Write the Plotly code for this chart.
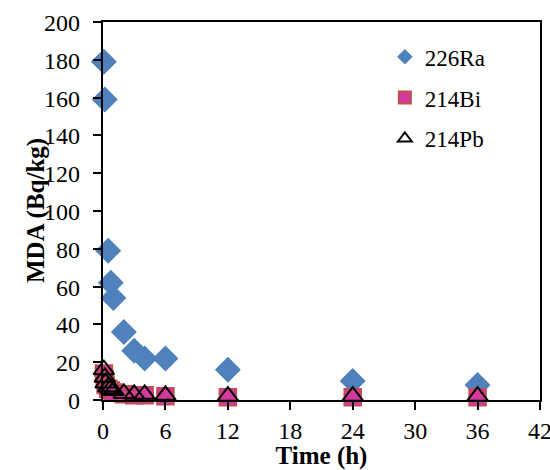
import plotly.graph_objects as go

ra_t = [0.083, 0.167, 0.5, 0.75, 1, 2, 3, 4, 6, 12, 24, 36]
ra_v = [179, 159, 79, 62, 54, 36, 26, 22, 22, 16, 10, 8]

bi_t = [0.083, 0.167, 0.25, 0.5, 0.75, 1, 2, 3, 4, 6, 12, 24, 36]
bi_v = [14, 11, 8, 6, 5, 4, 3, 2.5, 2.5, 2, 1.5, 1.5, 1.5]

pb_t = [0.083, 0.167, 0.25, 0.5, 0.75, 1, 2, 3, 4, 6, 12, 24, 36]
pb_v = [16, 12, 9, 7, 6, 5, 3.5, 3, 3, 2.5, 2, 2, 2]

x_ticks = [0, 6, 12, 18, 24, 30, 36, 42]
y_ticks = [0, 20, 40, 60, 80, 100, 120, 140, 160, 180, 200]

font = "Liberation Serif, Times New Roman, serif"

fig = go.Figure()
fig.add_trace(go.Scatter(x=ra_t, y=ra_v, mode="markers", name="226Ra", legendgroup="a",
                         cliponaxis=False,
                         marker=dict(symbol="diamond", size=20, color="#4F81BD",
                                     line=dict(width=0))))
fig.add_trace(go.Scatter(x=bi_t, y=bi_v, mode="markers", name="214Bi", legendgroup="b",
                         cliponaxis=False,
                         marker=dict(symbol="square", size=17, color="#D33A9B",
                                     line=dict(width=1.5, color="#C0504D"))))
fig.add_trace(go.Scatter(x=pb_t, y=pb_v, mode="markers", name="214Pb", legendgroup="c",
                         cliponaxis=False,
                         marker=dict(symbol="triangle-up-open", size=18, color="black",
                                     line=dict(width=2, color="black"))))

axis_common = dict(showline=True, linecolor="black", linewidth=2, mirror=True,
                   ticks="outside", ticklen=8, tickwidth=2, tickcolor="black",
                   showgrid=False, zeroline=False, automargin=False,
                   ticklabeloverflow="allow",
                   tickfont=dict(family=font, size=24, color="black"))

fig.update_xaxes(range=[0, 42], tickvals=x_ticks,
                 title=dict(text="<b>Time (h)</b>", font=dict(family=font, size=25, color="black"), standoff=1),
                 **axis_common)
fig.update_yaxes(range=[0, 200], tickvals=y_ticks, showticklabels=False,
                 **axis_common)

# y tick labels, placed on the y axis values, a little further from the axis
for v in y_ticks:
    fig.add_annotation(text=str(v), xref="paper", yref="y", x=0, y=v,
                       xanchor="right", yanchor="middle", xshift=-21, yshift=-1,
                       showarrow=False,
                       font=dict(family=font, size=24, color="black"))

fig.add_annotation(text="<b>MDA (Bq/kg)</b>", xref="paper", yref="paper",
                   x=0, y=0.5, xanchor="center", yanchor="middle", xshift=-67,
                   textangle=-90, showarrow=False,
                   font=dict(family=font, size=25, color="black"))

fig.update_layout(width=550, height=470, plot_bgcolor="white", paper_bgcolor="white",
                  margin=dict(l=103, r=10, t=22, b=70),
                  showlegend=True,
                  legend=dict(x=0.645, y=0.965, xanchor="left", yanchor="top",
                              font=dict(family=font, size=23, color="black"),
                              bgcolor="rgba(0,0,0,0)", itemsizing="constant",
                              traceorder="grouped", tracegroupgap=8))

fig.write_html("out.html", config={"displayModeBar": False},
               post_script="document.body.style.margin='0';document.body.style.overflow='hidden';")
